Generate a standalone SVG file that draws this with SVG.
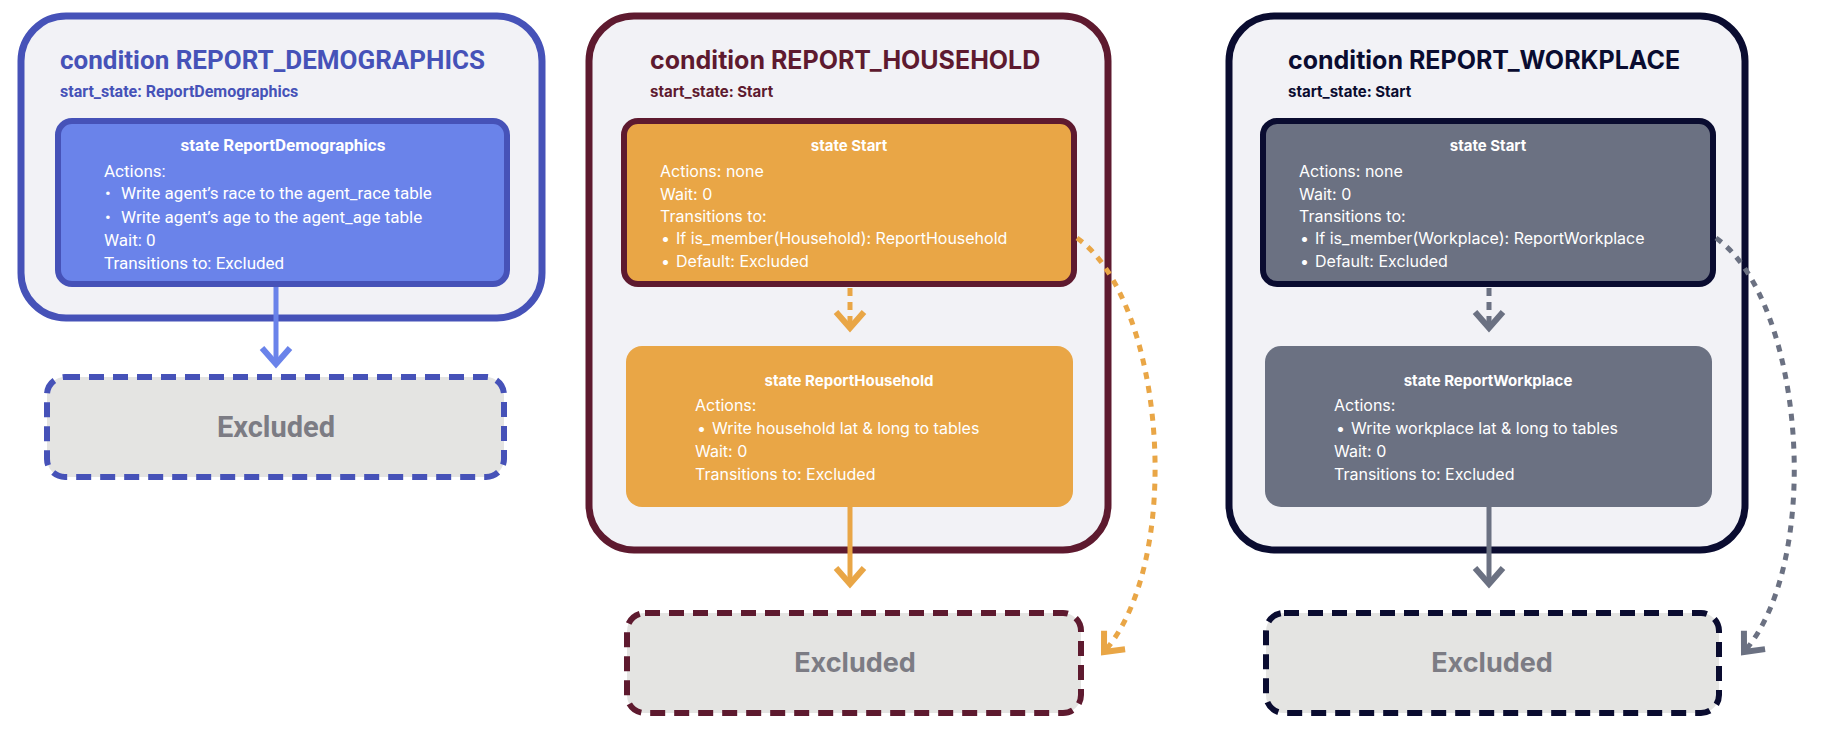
<svg xmlns="http://www.w3.org/2000/svg" width="1841" height="740" viewBox="0 0 1841 740">
<defs>
<style>
.panel{fill:#f2f2f6;stroke-width:7}
.t1{font-family:Roboto,"Liberation Sans",sans-serif;font-weight:700}
.t2{font-family:Inter,"Liberation Sans",sans-serif}
.b{font-weight:700}
.w{fill:#fff}
.exc{fill:#e4e4e2;stroke-width:6;stroke-dasharray:15 9}
.exct{fill:#7c7c84;font-weight:700;text-anchor:middle}
.ln{fill:none;stroke-width:5}
</style>
<marker id="mb" markerUnits="userSpaceOnUse" markerWidth="40" markerHeight="40" viewBox="-20 -20 40 40" refX="0" refY="0" orient="auto"><path d="M-16,-14 L0,0 L-16,14" fill="none" stroke="#6a83ea" stroke-width="6"/></marker>
<marker id="mo" markerUnits="userSpaceOnUse" markerWidth="40" markerHeight="40" viewBox="-20 -20 40 40" refX="0" refY="0" orient="auto"><path d="M-16,-14 L0,0 L-16,14" fill="none" stroke="#e9a646" stroke-width="6"/></marker>
<marker id="mg" markerUnits="userSpaceOnUse" markerWidth="40" markerHeight="40" viewBox="-20 -20 40 40" refX="0" refY="0" orient="auto"><path d="M-16,-14 L0,0 L-16,14" fill="none" stroke="#6b7182" stroke-width="6"/></marker>
</defs>
<rect width="1841" height="740" fill="#fff"/>

<g id="cond-demographics">
<rect class="panel" x="21" y="16" width="521" height="302" rx="45" stroke="#4652b8"/>
<text class="t1" x="60" y="69" font-size="26" fill="#4652b8">condition REPORT_DEMOGRAPHICS</text>
<text class="t1" x="60" y="97" font-size="16" fill="#4652b8">start_state: ReportDemographics</text>
</g>
<g id="state-reportdemographics">
<rect x="58" y="121" width="449" height="163" rx="14" fill="#6a83ea" stroke="#4652b8" stroke-width="6"/>
<text class="t1 w" x="283" y="151" font-size="17" text-anchor="middle">state ReportDemographics</text>
<g class="w" font-family="Roboto,'Liberation Sans',sans-serif" font-size="17">
<text x="104" y="177">Actions:</text>
<text x="105" y="199">•</text><text x="121" y="199">Write agent’s race to the agent_race table</text>
<text x="105" y="223">•</text><text x="121" y="223">Write agent’s age to the agent_age table</text>
<text x="104" y="246">Wait: 0</text>
<text x="104" y="269">Transitions to: Excluded</text>
</g>
</g>
<g id="excluded-1">
<rect class="exc" x="47" y="377" width="457" height="100" rx="18" stroke="#4652b8"/>
<text class="t1 exct" x="276" y="437" font-size="29">Excluded</text>
</g>

<g id="cond-household">
<rect class="panel" x="589" y="16" width="519" height="534" rx="45" stroke="#5e1a2f"/>
<text class="t2 b" x="650" y="69" font-size="25" fill="#5e1a2f">condition REPORT_HOUSEHOLD</text>
<text class="t2 b" x="650" y="97" font-size="15" fill="#5e1a2f">start_state: Start</text>
</g>
<g id="state-start-h">
<rect x="624" y="121" width="450" height="163" rx="14" fill="#e9a646" stroke="#5e1a2f" stroke-width="6"/>
<text class="t2 b w" x="849" y="151" font-size="15" text-anchor="middle">state Start</text>
<g class="t2 w" font-size="16">
<text x="660" y="177">Actions: none</text>
<text x="660" y="200">Wait: 0</text>
<text x="660" y="222">Transitions to:</text>
<text x="661" y="244">•</text><text x="676" y="244">If is_member(Household): ReportHousehold</text>
<text x="661" y="267">•</text><text x="676" y="267">Default: Excluded</text>
</g>
</g>
<g id="state-reporthousehold">
<rect x="626" y="346" width="447" height="161" rx="16" fill="#e9a646"/>
<text class="t2 b w" x="849" y="386" font-size="15" text-anchor="middle">state ReportHousehold</text>
<g class="t2 w" font-size="16">
<text x="695" y="411">Actions:</text>
<text x="697" y="434">•</text><text x="712" y="434">Write household lat &amp; long to tables</text>
<text x="695" y="457">Wait: 0</text>
<text x="695" y="480">Transitions to: Excluded</text>
</g>
</g>
<g id="excluded-2">
<rect class="exc" x="627" y="613" width="454" height="100" rx="18" stroke="#5e1a2f"/>
<text class="t2 exct" x="855" y="672" font-size="27">Excluded</text>
</g>

<g id="cond-workplace">
<rect class="panel" x="1229" y="16" width="516" height="534" rx="45" stroke="#0a0c30"/>
<text class="t2 b" x="1288" y="69" font-size="25" fill="#0a0c30">condition REPORT_WORKPLACE</text>
<text class="t2 b" x="1288" y="97" font-size="15" fill="#0a0c30">start_state: Start</text>
</g>
<g id="state-start-w">
<rect x="1263" y="121" width="450" height="163" rx="14" fill="#6b7182" stroke="#0a0c30" stroke-width="6"/>
<text class="t2 b w" x="1488" y="151" font-size="15" text-anchor="middle">state Start</text>
<g class="t2 w" font-size="16">
<text x="1299" y="177">Actions: none</text>
<text x="1299" y="200">Wait: 0</text>
<text x="1299" y="222">Transitions to:</text>
<text x="1300" y="244">•</text><text x="1315" y="244">If is_member(Workplace): ReportWorkplace</text>
<text x="1300" y="267">•</text><text x="1315" y="267">Default: Excluded</text>
</g>
</g>
<g id="state-reportworkplace">
<rect x="1265" y="346" width="447" height="161" rx="16" fill="#6b7182"/>
<text class="t2 b w" x="1488" y="386" font-size="15" text-anchor="middle">state ReportWorkplace</text>
<g class="t2 w" font-size="16">
<text x="1334" y="411">Actions:</text>
<text x="1336" y="434">•</text><text x="1351" y="434">Write workplace lat &amp; long to tables</text>
<text x="1334" y="457">Wait: 0</text>
<text x="1334" y="480">Transitions to: Excluded</text>
</g>
</g>
<g id="excluded-3">
<rect class="exc" x="1266" y="613" width="453" height="100" rx="18" stroke="#0a0c30"/>
<text class="t2 exct" x="1492" y="672" font-size="27">Excluded</text>
</g>

<g id="connectors">
<path class="ln" d="M276,287 V364" stroke="#6a83ea" marker-end="url(#mb)"/>
<path class="ln" d="M850,288 V328" stroke="#e9a646" stroke-dasharray="8 6" marker-end="url(#mo)"/>
<path class="ln" d="M850,507 V584" stroke="#e9a646" marker-end="url(#mo)"/>
<path class="ln" d="M1077,238 C1165,300 1185,560 1104,652" stroke="#e9a646" stroke-dasharray="7 7" marker-end="url(#mo)"/>
<path class="ln" d="M1489,288 V328" stroke="#6b7182" stroke-dasharray="8 6" marker-end="url(#mg)"/>
<path class="ln" d="M1489,507 V584" stroke="#6b7182" marker-end="url(#mg)"/>
<path class="ln" d="M1716,238 C1804,300 1824,560 1744,652" stroke="#6b7182" stroke-dasharray="7 7" marker-end="url(#mg)"/>
</g>
</svg>
